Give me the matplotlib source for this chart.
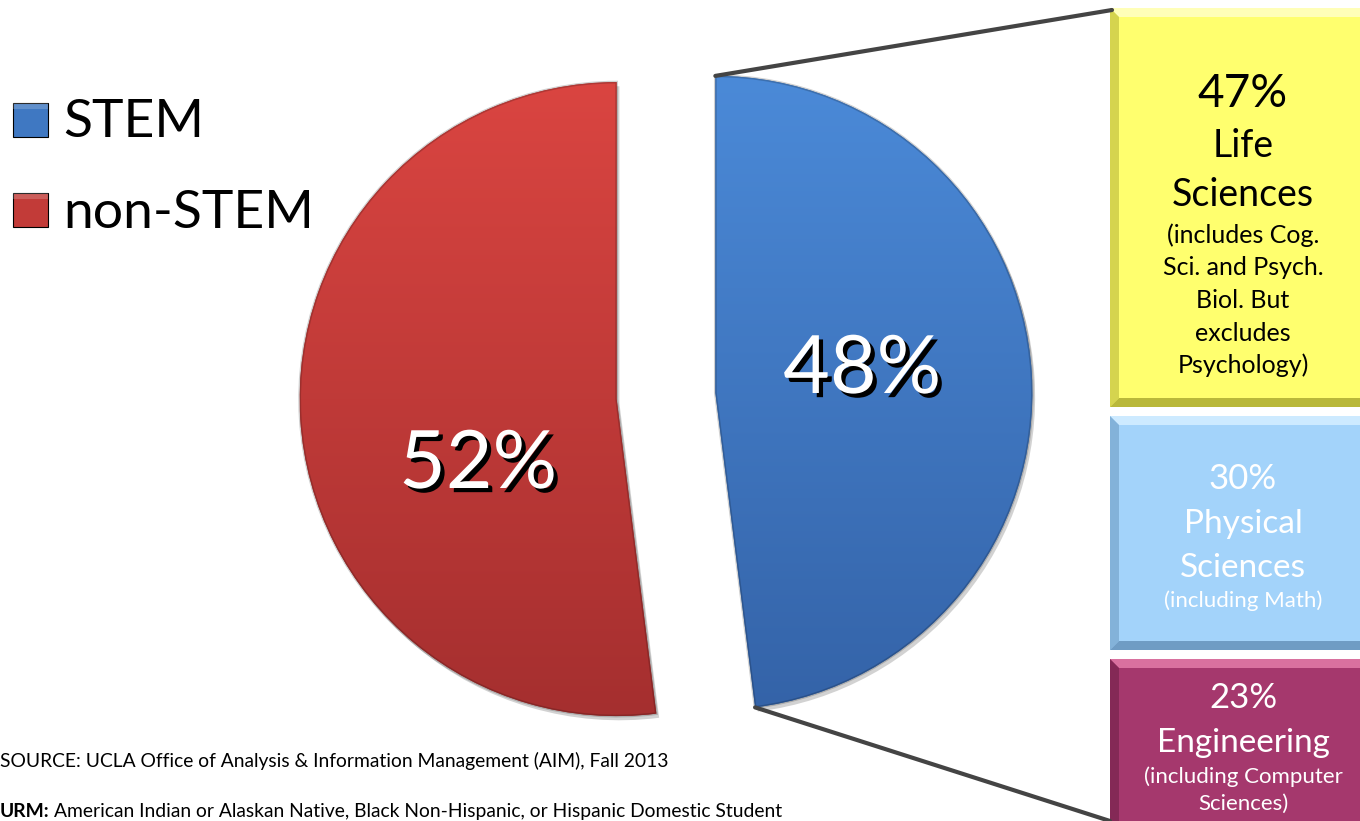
import numpy as np
import matplotlib
matplotlib.use("Agg")
import matplotlib.pyplot as plt
import matplotlib.patheffects as pe
from matplotlib.patches import Polygon, Rectangle, PathPatch
from matplotlib.colors import LinearSegmentedColormap

W, H = 1360, 821

# ---- data -------------------------------------------------------------
segments = ["STEM", "non-STEM"]
shares = [48, 52]
stem_shares = [47, 30, 23]
field_titles = [["Life", "Sciences"], ["Physical", "Sciences"], ["Engineering"]]
field_notes = [
    ["(includes Cog.", "Sci. and Psych.", "Biol. But", "excludes", "Psychology)"],
    ["(including Math)"],
    ["(including Computer", "Sciences)"],
]
source_note = "SOURCE: UCLA Office of Analysis & Information Management (AIM), Fall 2013"
urm_term = "URM:"
urm_note = "American Indian or Alaskan Native, Black Non-Hispanic, or Hispanic Domestic Student"

# ---- style ------------------------------------------------------------
FONT = ["Lato", "DejaVu Sans"]
plt.rcParams["font.family"] = FONT
seg_grad = [("#4b8ad8", "#3463a8"), ("#da4541", "#a52f2f")]
seg_base = ["#3f78c2", "#c23b38"]
box_face = ["#ffff6e", "#a3d3fa", "#a5386d"]
box_light = ["#ffffb8", "#cdeaff", "#d9719f"]
box_dark = ["#b9b83a", "#6f9cc4", "#6e2048"]
box_text = ["black", "white", "white"]

fig = plt.figure(figsize=(W / 100, H / 100), dpi=100)
ax = fig.add_axes([0, 0, 1, 1])

# ---- exploded pie (y axis grows downward, so angles run clockwise) ----
pie_radius = 317
explode_frac = [0.156, 0.156]
wedges, _ = ax.pie(
    shares,
    startangle=-90,
    counterclock=True,
    center=(666, 396),
    radius=pie_radius,
    explode=[e * pie_radius for e in explode_frac],
    colors=seg_base,
    wedgeprops=dict(linewidth=0),
)
for w, (c_top, c_bot) in zip(wedges, seg_grad):
    w.set_zorder(2)
    w.set_path_effects([pe.SimplePatchShadow(offset=(2, -3), shadow_rgbFace="0.5", alpha=0.35),
                        pe.Normal()])
    cx, cy = w.center
    r = w.r
    cmap = LinearSegmentedColormap.from_list("g", [c_top, c_bot])
    grad = np.linspace(0, 1, 256).reshape(-1, 1)
    im = ax.imshow(grad, cmap=cmap, extent=[cx - r, cx + r, cy + r, cy - r],
                   aspect="auto", zorder=3, interpolation="bilinear")
    im.set_clip_path(w)
    rim = PathPatch(w.get_path(), transform=w.get_transform(), fill=False,
                    edgecolor="black", alpha=0.18, linewidth=2.0, zorder=4)
    ax.add_patch(rim)

ax.set_aspect("auto")
ax.set_xlim(0, W)
ax.set_ylim(H, 0)
ax.axis("off")

# value labels on the two slices
label_pos = [(862, 393), (478, 488)]
for v, (x, y) in zip(shares, label_pos):
    ax.text(x, y, f"{v}%", fontsize=58, color="white", ha="center", va="baseline",
            zorder=6,
            path_effects=[pe.SimplePatchShadow(offset=(3, -3), shadow_rgbFace="black", alpha=1.0),
                          pe.Normal()])

# ---- breakdown boxes --------------------------------------------------
box_rows = [(8, 407), (416, 650), (659, 835)]
bx0, bx1 = 1110, 1380
bev = 9


def bevel_box(y0, y1, face, light, dark):
    ax.add_patch(Rectangle((bx0, y0), bx1 - bx0, y1 - y0, facecolor=face,
                           edgecolor="none", zorder=2))
    ax.add_patch(Polygon([(bx0, y0), (bx1, y0), (bx1 - bev, y0 + bev), (bx0 + bev, y0 + bev)],
                         facecolor=light, edgecolor="none", zorder=3))
    ax.add_patch(Polygon([(bx0, y0), (bx0 + bev, y0 + bev), (bx0 + bev, y1 - bev), (bx0, y1)],
                         facecolor=dark, edgecolor="none", alpha=0.6, zorder=3))
    ax.add_patch(Polygon([(bx0, y1), (bx0 + bev, y1 - bev), (bx1 - bev, y1 - bev), (bx1, y1)],
                         facecolor=dark, edgecolor="none", zorder=3))


for (y0, y1), f, l, d in zip(box_rows, box_face, box_light, box_dark):
    bevel_box(y0, y1, f, l, d)

tx = 1243
pct_base = [107, 489, 708]
pct_size = [33, 25, 25]
title_base = [[157, 206], [533, 577], [752]]
title_size = [27, 24, 24]
note_base = [[243, 275, 308, 341, 373], [607], [783, 810]]
note_size = [18, 16, 16]
for i, v in enumerate(stem_shares):
    col = box_text[i]
    ax.text(tx, pct_base[i], f"{v}%", fontsize=pct_size[i], color=col,
            ha="center", va="baseline", zorder=5)
    for t, yb in zip(field_titles[i], title_base[i]):
        ax.text(tx, yb, t, fontsize=title_size[i], color=col, ha="center",
                va="baseline", zorder=5)
    for t, yb in zip(field_notes[i], note_base[i]):
        ax.text(tx, yb, t, fontsize=note_size[i], color=col, ha="center",
                va="baseline", zorder=5)

# ---- connector lines from the STEM slice to the breakdown boxes -------
stem = wedges[0]
cx, cy = stem.center
a_top, a_bot = np.deg2rad(stem.theta1), np.deg2rad(stem.theta2)
p_top = (cx + stem.r * np.cos(a_top), cy + stem.r * np.sin(a_top))
p_bot = (cx + stem.r * np.cos(a_bot), cy + stem.r * np.sin(a_bot))
ax.plot([p_top[0], bx0 + 2], [p_top[1], box_rows[0][0] + 2], color="#444444", lw=3,
        solid_capstyle="round", zorder=4)
ax.plot([p_bot[0], bx0], [p_bot[1], H], color="#444444", lw=3,
        solid_capstyle="round", zorder=4)

# ---- legend -----------------------------------------------------------
leg_rows = [(102, 137), (192, 228)]
for (y0, yb), name, c in zip(leg_rows, segments, seg_base):
    ax.add_patch(Rectangle((13, y0 + 1), 35, 34, facecolor=c, edgecolor="black",
                           linewidth=0.8, alpha=1, zorder=3))
    ax.add_patch(Rectangle((13, y0 + 1), 35, 6, facecolor="white", alpha=0.18,
                           edgecolor="none", zorder=4))
    ax.text(63, yb, name, fontsize=38.5, color="black", ha="left", va="baseline", zorder=5)

# ---- footnotes --------------------------------------------------------
ax.text(0, 767, source_note, fontsize=13.9, color="black", ha="left", va="baseline")
t1 = ax.text(0, 817, urm_term, fontsize=13.9, fontweight="bold", color="black",
             ha="left", va="baseline")
fig.canvas.draw()
bb = t1.get_window_extent()
x_after = ax.transData.inverted().transform((bb.x1, bb.y0))[0]
ax.text(x_after + 4, 817, urm_note, fontsize=13.9, color="black", ha="left", va="baseline")

fig.savefig("out.png", dpi=100)
